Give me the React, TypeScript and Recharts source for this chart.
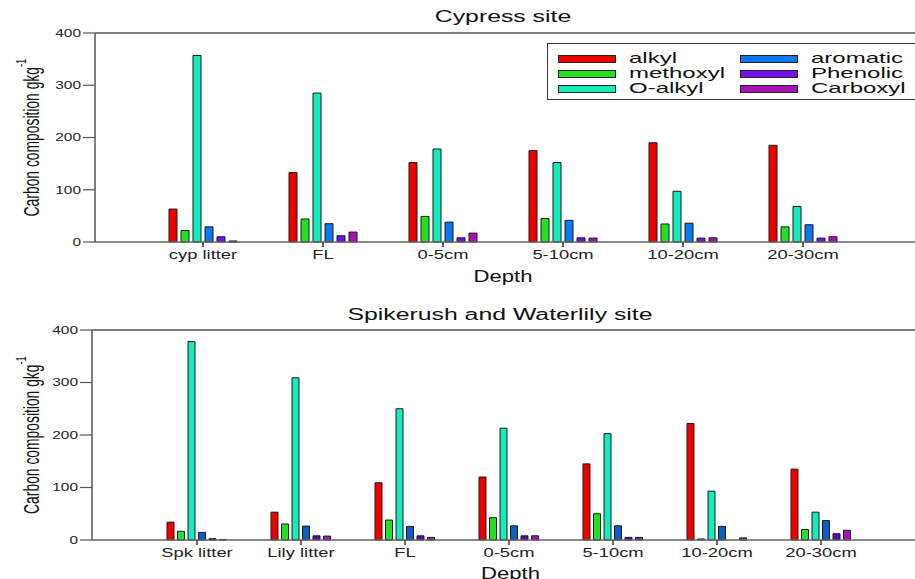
import { BarChart, Bar, XAxis, YAxis, ReferenceLine } from "recharts";

// Cypress site
const topCategories = ["cyp litter", "FL", "0-5cm", "5-10cm", "10-20cm", "20-30cm"];
const topAlkyl = [63, 133, 152, 175, 190, 185];
const topMethoxyl = [22, 44, 49, 45, 34.5, 29];
const topOAlkyl = [357, 285, 178, 152, 97, 68];
const topAromatic = [29, 35, 38, 41.5, 36, 33];
const topPhenolic = [10, 12, 8, 8, 7.5, 7.5];
const topCarboxyl = [2, 19, 17, 7.5, 8, 10];

// Spikerush and Waterlily site
const bottomCategories = ["Spk litter", "Lily litter", "FL", "0-5cm", "5-10cm", "10-20cm", "20-30cm"];
const bottomAlkyl = [34, 53, 109, 120, 145, 222, 135];
const bottomMethoxyl = [16.5, 30.5, 38, 42.5, 50, 2, 20];
const bottomOAlkyl = [378, 309, 250, 213, 202.5, 93, 53];
const bottomAromatic = [14.5, 26.5, 26, 27, 27, 26, 37];
const bottomPhenolic = [2.5, 8, 8, 8, 5, 0, 12];
const bottomCarboxyl = [1, 7.5, 5, 8, 5, 4, 18.5];

const yTicks = [0, 100, 200, 300, 400];

const seriesNames = ["alkyl", "methoxyl", "O-alkyl", "aromatic", "Phenolic", "Carboxyl"];
const topColors = ["#ee0000", "#22e022", "#14ecbc", "#0a78f0", "#7410f0", "#a810b8"];
const bottomColors = ["#ee0000", "#22e022", "#14ecbc", "#0c5cc4", "#5a0cb4", "#a810b8"];

const font = "'Liberation Sans', Arial, sans-serif";
// the original figure is stretched sideways, so all text gets widened
const SX = 1.47;

function buildRows(cats: string[], series: number[][]) {
  return cats.map((c, i) => {
    const row: Record<string, string | number> = { name: c };
    series.forEach((s, k) => {
      row[seriesNames[k]] = s[i];
    });
    return row;
  });
}

const topData = buildRows(topCategories, [topAlkyl, topMethoxyl, topOAlkyl, topAromatic, topPhenolic, topCarboxyl]);
const bottomData = buildRows(bottomCategories, [
  bottomAlkyl,
  bottomMethoxyl,
  bottomOAlkyl,
  bottomAromatic,
  bottomPhenolic,
  bottomCarboxyl,
]);

const XTick = (props: any) => {
  const { x, y, payload } = props;
  return (
    <g transform={`translate(${x},${y})`}>
      <text transform={`scale(${SX},1)`} y={10} textAnchor="middle" fontFamily={font} fontSize={12.5} fill="#222">
        {payload.value}
      </text>
    </g>
  );
};

const YTick = (props: any) => {
  const { x, y, payload } = props;
  return (
    <g transform={`translate(${x},${y})`}>
      <text transform={`scale(1.4,1)`} dy="0.36em" textAnchor="end" fontFamily={font} fontSize={11} fill="#222">
        {payload.value}
      </text>
    </g>
  );
};

// condensed, rotated axis title
const YLabel = (props: any) => {
  const vb = props.viewBox || { x: 0, y: 0, width: 0, height: 0 };
  const cx = vb.x + 31;
  const cy = vb.y + vb.height / 2;
  return (
    <g transform={`translate(${cx},${cy}) rotate(-90) scale(0.63,1)`}>
      <text textAnchor="middle" dominantBaseline="central" fontFamily={font} fontSize={22} fill="#111">
        Carbon composition gkg
        <tspan dy={-10} fontSize={15}>-1</tspan>
      </text>
    </g>
  );
};

const DepthLabel = (props: any) => {
  const vb = props.viewBox || { x: 0, y: 0, width: 0, height: 0 };
  const cx = vb.x + vb.width / 2 + props.dxs;
  const cy = vb.y + props.dys;
  return (
    <g transform={`translate(${cx},${cy})`}>
      <text transform={`scale(1.3,1)`} textAnchor="middle" fontFamily={font} fontSize={17} fill="#111">
        Depth
      </text>
    </g>
  );
};

const Legendbox = () => (
  <div
    style={{
      position: "absolute",
      left: 547,
      top: 43,
      width: 380,
      height: 57,
      border: "1.5px solid #333",
      background: "#fff",
      fontFamily: font,
      fontSize: 15,
      color: "#111",
      boxSizing: "border-box",
    }}
  >
    {seriesNames.map((n, i) => {
      const col = Math.floor(i / 3);
      const row = i % 3;
      return (
        <div key={n} style={{ position: "absolute", left: 10 + col * 182, top: 6 + row * 15, height: 15 }}>
          <span
            style={{
              position: "absolute",
              left: 0,
              top: 5,
              width: 56,
              height: 6,
              background: topColors[i],
              border: "1px solid #222",
            }}
          />
          <span
            style={{
              position: "absolute",
              left: 71,
              top: 1,
              lineHeight: "14px",
              whiteSpace: "nowrap",
              transform: "scale(1.6,1)",
              transformOrigin: "left center",
            }}
          >
            {n}
          </span>
        </div>
      );
    })}
  </div>
);

type PanelProps = {
  data: Record<string, string | number>[];
  colors: string[];
  top: number;
  height: number;
  marginTop: number;
  yWidth: number;
  padLeft: number;
  padRight: number;
  barSize: number;
  barGap: number;
  xHeight: number;
  title: string;
  titleY: number;
  titleX: number;
  depthY: number;
  depthDx: number;
};

function Panel(p: PanelProps) {
  return (
    <div style={{ position: "absolute", left: 0, top: p.top, width: 915, height: p.height }}>
      <div
        style={{
          position: "absolute",
          left: p.titleX - 400,
          width: 800,
          top: p.titleY - 9,
          textAlign: "center",
          fontFamily: font,
          fontSize: 16,
          color: "#111",
          lineHeight: "18px",
          transform: "scale(1.55,1)",
          transformOrigin: "center center",
          whiteSpace: "nowrap",
        }}
      >
        {p.title}
      </div>
      <BarChart
        width={915}
        height={p.height}
        data={p.data}
        margin={{ top: p.marginTop, right: 0, bottom: 0, left: 0 }}
        barSize={p.barSize}
        barGap={p.barGap}
      >
        <ReferenceLine y={400} stroke="#808080" strokeWidth={2} />
        <XAxis
          dataKey="name"
          height={p.xHeight}
          padding={{ left: p.padLeft, right: p.padRight }}
          tickSize={5}
          tickMargin={2}
          axisLine={{ stroke: "#666", strokeWidth: 1.5 }}
          tickLine={{ stroke: "#333", strokeWidth: 1.5 }}
          tick={<XTick />}
          interval={0}
          label={<DepthLabel dxs={p.depthDx} dys={p.depthY} />}
        />
        <YAxis
          width={p.yWidth}
          domain={[0, 400]}
          ticks={yTicks}
          tickSize={12}
          tickMargin={2}
          axisLine={{ stroke: "#555", strokeWidth: 1.5 }}
          tickLine={{ stroke: "#555", strokeWidth: 1.2 }}
          tick={<YTick />}
          label={{ content: YLabel }}
        />
        {seriesNames.map((n, i) => (
          <Bar key={n} dataKey={n} fill={p.colors[i]} stroke="#1a1a1a" strokeWidth={1} isAnimationActive={false} />
        ))}
      </BarChart>
    </div>
  );
}

export default function App() {
  return (
    <div style={{ position: "absolute", left: 0, top: 0, width: 915, height: 579, overflow: "hidden", background: "#fff" }}>
      <Panel
        data={topData}
        colors={topColors}
        top={0}
        height={290}
        marginTop={33}
        yWidth={95}
        padLeft={48}
        padRight={52}
        barSize={8}
        barGap={4}
        xHeight={48}
        title="Cypress site"
        titleY={17}
        titleX={503}
        depthY={40}
        depthDx={-2}
      />
      <Panel
        data={bottomData}
        colors={bottomColors}
        top={290}
        height={289}
        marginTop={40}
        yWidth={92}
        padLeft={53}
        padRight={42}
        barSize={7}
        barGap={3.5}
        xHeight={39}
        title="Spikerush and Waterlily site"
        titleY={25}
        titleX={500}
        depthY={39}
        depthDx={7}
      />
      <Legendbox />
    </div>
  );
}
